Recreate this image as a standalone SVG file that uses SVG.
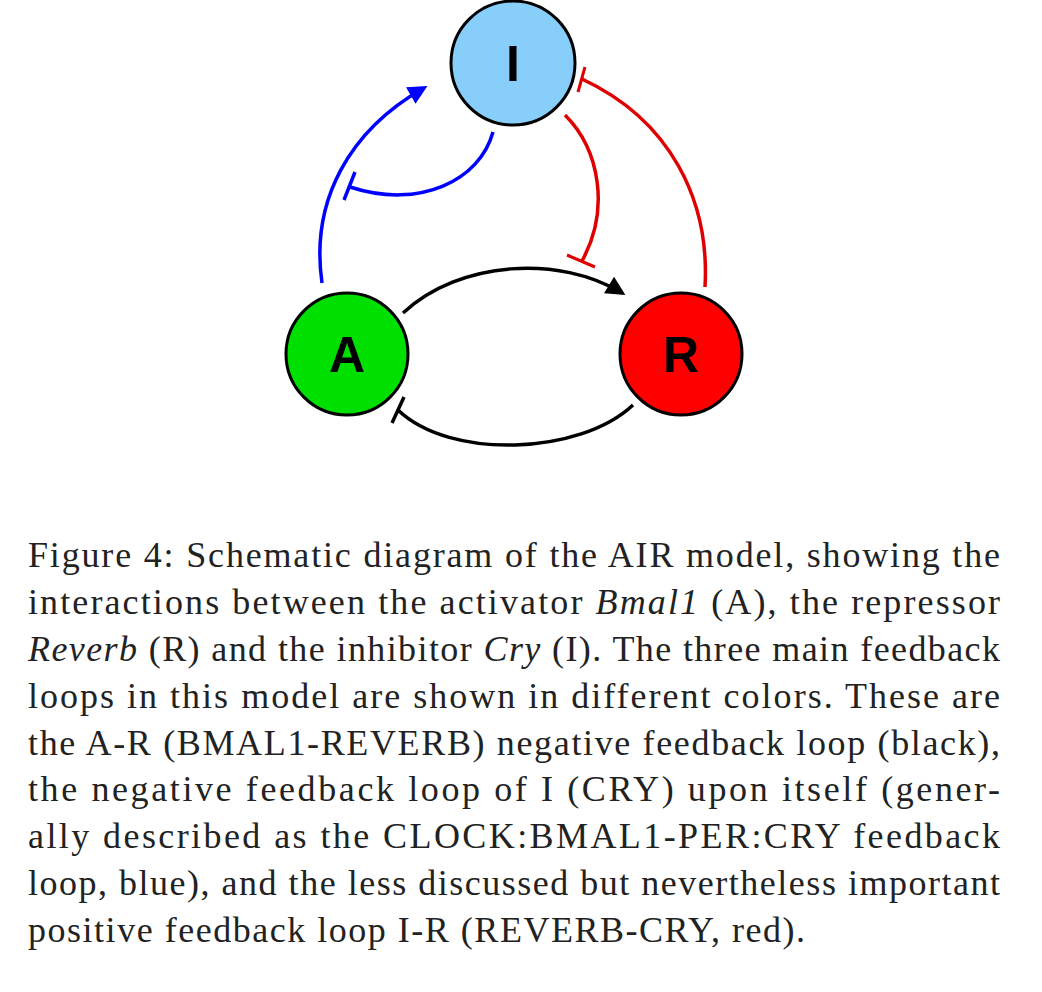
<svg xmlns="http://www.w3.org/2000/svg" width="1042" height="992" viewBox="0 0 1042 992">
<style>
.n{stroke:#000;stroke-width:3}
.l{font-family:"Liberation Sans",Arial,sans-serif;font-weight:bold;font-size:50px;text-anchor:middle}
.c{fill:none;stroke-width:3.5}
.t{font-family:"Liberation Serif","Times New Roman",serif;font-size:36px;fill:#222}
</style>
<defs>
<marker id="ab" viewBox="0 0 10 10" refX="9" refY="5" markerWidth="8" markerHeight="8" markerUnits="userSpaceOnUse" orient="auto" style="overflow:visible"><path d="M-10,-7 L14,5 L-10,17 z" fill="#0000ff"/></marker>
<marker id="ak" viewBox="0 0 10 10" refX="9" refY="5" markerWidth="8" markerHeight="8" markerUnits="userSpaceOnUse" orient="auto" style="overflow:visible"><path d="M-10,-7 L14,5 L-10,17 z" fill="#000"/></marker>
</defs>
<rect width="1042" height="992" fill="#fff"/>
<g id="connectors">
<path class="c" stroke="#0000ff" d="M322,283 C310,200 350,130 424,88" marker-end="url(#ab)"/>
<path class="c" stroke="#0000ff" d="M493,132 C480,180 420,210 350,187"/>
<line stroke="#0000ff" stroke-width="3.5" x1="344" y1="200" x2="355" y2="172"/>
<path class="c" stroke="#e00000" stroke-width="3" d="M705,287 C710,200 670,120 582,79"/>
<line stroke="#e00000" stroke-width="3" x1="585" y1="67" x2="578" y2="92"/>
<path class="c" stroke="#e00000" stroke-width="3" d="M565,115 C600,150 610,210 582,261"/>
<line stroke="#e00000" stroke-width="3" x1="567" y1="255" x2="595" y2="267"/>
<path class="c" stroke="#000" d="M403,313 C460,260 560,255 622,293" marker-end="url(#ak)"/>
<path class="c" stroke="#000" d="M633,405 C580,455 450,460 398,410"/>
<line stroke="#000" stroke-width="3.5" x1="392" y1="423" x2="404" y2="397"/>
</g>
<g id="I"><circle class="n" cx="513" cy="63" r="62" fill="#87cefa"/><text class="l" x="513" y="81">I</text></g>
<g id="A"><circle class="n" cx="347" cy="354" r="61" fill="#00e000"/><text class="l" x="347" y="372">A</text></g>
<g id="R"><circle class="n" cx="681" cy="354" r="61" fill="#ff0000"/><text class="l" x="681" y="372">R</text></g>
<g id="caption" class="t">
<text x="28" y="567" textLength="972" lengthAdjust="spacing">Figure 4: Schematic diagram of the AIR model, showing the</text>
<text x="28" y="614" textLength="972" lengthAdjust="spacing">interactions between the activator <tspan font-style="italic">Bmal1</tspan> (A), the repressor</text>
<text x="28" y="661" textLength="972" lengthAdjust="spacing"><tspan font-style="italic">Reverb</tspan> (R) and the inhibitor <tspan font-style="italic">Cry</tspan> (I). The three main feedback</text>
<text x="28" y="708" textLength="972" lengthAdjust="spacing">loops in this model are shown in different colors. These are</text>
<text x="28" y="755" textLength="972" lengthAdjust="spacing">the A-R (BMAL1-REVERB) negative feedback loop (black),</text>
<text x="28" y="801" textLength="972" lengthAdjust="spacing">the negative feedback loop of I (CRY) upon itself (gener-</text>
<text x="28" y="848" textLength="972" lengthAdjust="spacing">ally described as the CLOCK:BMAL1-PER:CRY feedback</text>
<text x="28" y="895" textLength="972" lengthAdjust="spacing">loop, blue), and the less discussed but nevertheless important</text>
<text x="28" y="942" textLength="777" lengthAdjust="spacing">positive feedback loop I-R (REVERB-CRY, red).</text>
</g>
</svg>
